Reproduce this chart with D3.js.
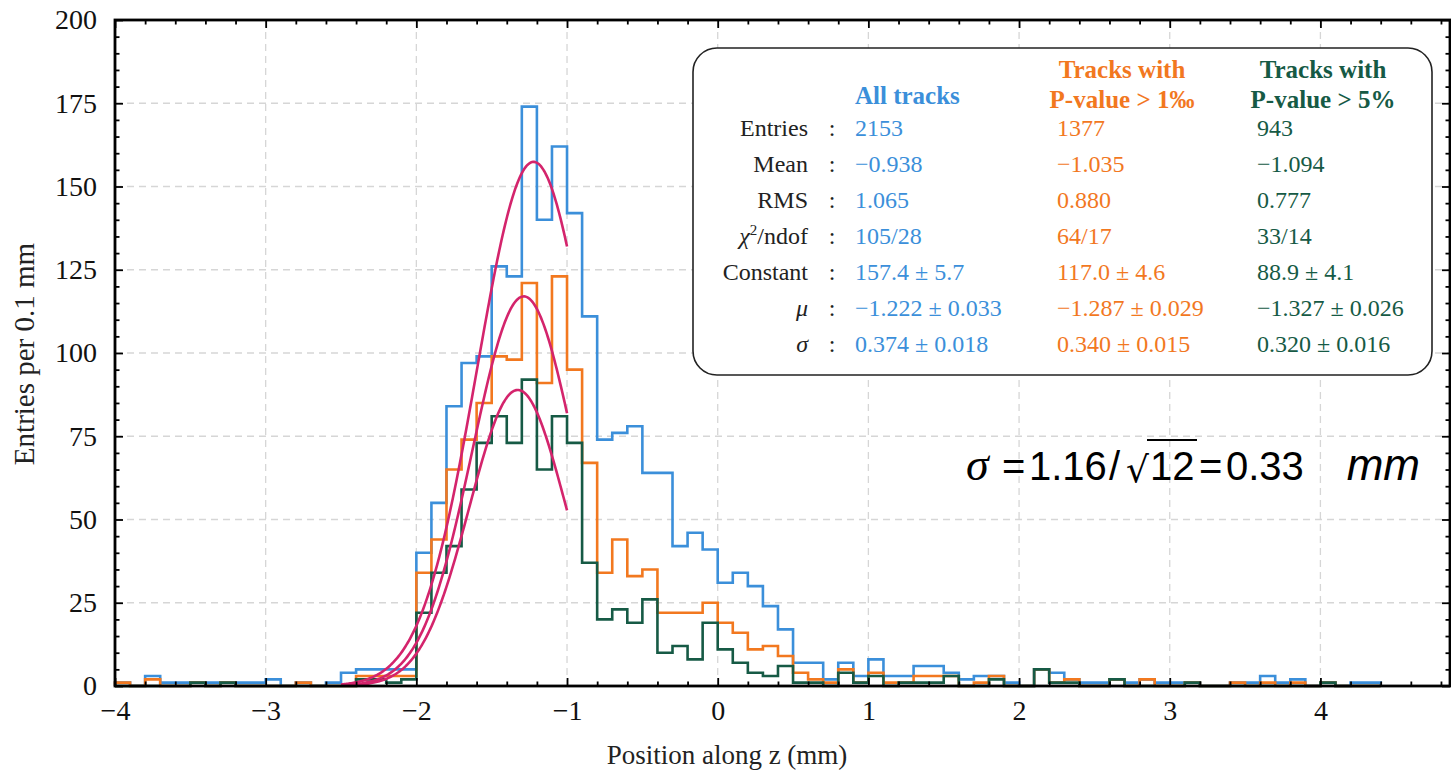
<!DOCTYPE html>
<html>
<head>
<meta charset="utf-8">
<script src="https://cdn.jsdelivr.net/npm/d3@7"></script>
<style>
  html, body { margin: 0; padding: 0; background: #fff; }
  svg { display: block; }
</style>
</head>
<body>
<svg id="chart" width="1451" height="773"></svg>
<script>
// ---------------- data ----------------
const binStart = -4.0;
const binWidth = 0.1;
// bins from -4.0 to 4.4 (0.1 mm each)
const allTracks = [1,0,3,1,1,1,1,1,1,1, 2,0,1,0,1,4,5,5,5,5,
  40,55,84,97,99,126,123,174,140,162, 142,111,74,76,78,64,64,42,46,41,
  31,34,30,24,17,7,7,2,7,3, 8,3,3,6,6,4,2,3,3,1,
  0,5,4,2,1,1,2,1,2,1, 1,1,0,0,1,1,3,1,2,0, 1,0,1,1];
const pValue1 = [1,0,2,0,0,1,0,1,0,0, 0,0,1,0,0,0,3,3,3,3,
  34,44,65,74,85,99,98,121,91,123, 95,67,34,44,33,35,22,22,22,25,
  19,16,11,12,9,4,2,1,5,1, 4,1,1,3,3,3,0,1,3,0,
  0,5,1,2,0,0,2,0,2,0, 0,1,0,0,1,0,1,0,1,0, 1,0,0,0];
const pValue5 = [0,0,0,0,0,1,0,1,0,0, 0,0,0,0,0,0,2,2,1,2,
  22,34,42,59,73,81,73,92,65,81, 73,37,20,23,19,26,10,12,8,19,
  11,7,4,3,6,1,1,0,4,1, 3,0,1,1,1,3,0,0,2,0,
  0,5,1,1,0,0,2,0,0,0, 0,1,0,0,0,0,0,0,0,0, 1,0,0,0];
const seriesNames = ["All tracks", "P-value > 1‰", "P-value > 5%"];
const seriesColors = ["#3b8fda", "#f2781f", "#165a45"];
// Gaussian fit parameters (from the stats box)
const fitConstant = [157.4, 117.0, 88.9];
const fitMu = [-1.222, -1.287, -1.327];
const fitSigma = [0.374, 0.340, 0.320];
const fitRange = [-2.5, -1.0];
const fitColor = "#d4246c";
// ticks
const xTicks = [-4, -3, -2, -1, 0, 1, 2, 3, 4];
const yTicks = [0, 25, 50, 75, 100, 125, 150, 175, 200];
// stats box
const statLabels = ["Entries", "Mean", "RMS", "χ²/ndof", "Constant", "μ", "σ"];
const statsAll = ["2153", "−0.938", "1.065", "105/28", "157.4 ± 5.7", "−1.222 ± 0.033", "0.374 ± 0.018"];
const statsP1 = ["1377", "−1.035", "0.880", "64/17", "117.0 ± 4.6", "−1.287 ± 0.029", "0.340 ± 0.015"];
const statsP5 = ["943", "−1.094", "0.777", "33/14", "88.9 ± 4.1", "−1.327 ± 0.026", "0.320 ± 0.016"];

// ---------------- layout ----------------
const svg = d3.select("#chart");
const L = 115, R = 1450, T = 20, B = 686;
const x = d3.scaleLinear().domain([-4, 4.86]).range([L, R]);
const y = d3.scaleLinear().domain([0, 200]).range([B, T]);
const serif = "'Liberation Serif', 'Times New Roman', serif";
const fmt = d => (d < 0 ? "−" + Math.abs(d) : String(d));

// grid
const grid = svg.append("g");
grid.selectAll(".gx").data(xTicks).join("line")
  .attr("x1", d => x(d)).attr("x2", d => x(d)).attr("y1", T).attr("y2", B)
  .attr("stroke", "#d6d6d6").attr("stroke-width", 1.3).attr("stroke-dasharray", "7,5");
grid.selectAll(".gy").data(yTicks).join("line")
  .attr("x1", L).attr("x2", R).attr("y1", d => y(d)).attr("y2", d => y(d))
  .attr("stroke", "#d6d6d6").attr("stroke-width", 1.3).attr("stroke-dasharray", "7,5");

// histograms
function stepPoints(vals) {
  const pts = [[binStart, 0]];
  vals.forEach((v, i) => {
    const x0 = binStart + i * binWidth;
    pts.push([x0, v]);
    pts.push([x0 + binWidth, v]);
  });
  pts.push([binStart + vals.length * binWidth, 0]);
  return pts;
}
const line = d3.line().x(d => x(d[0])).y(d => y(d[1]));
const histData = [allTracks, pValue1, pValue5];
svg.append("g").selectAll("path").data(histData).join("path")
  .attr("d", d => line(stepPoints(d)))
  .attr("fill", "none")
  .attr("stroke", (d, i) => seriesColors[i])
  .attr("stroke-width", 2.6)
  .attr("stroke-linejoin", "miter");

// fits
const fitXs = d3.range(0, 201).map(k => fitRange[0] + (fitRange[1] - fitRange[0]) * k / 200);
const fitLine = d3.line().x(d => x(d[0])).y(d => y(d[1])).curve(d3.curveLinear);
svg.append("g").selectAll("path").data(fitConstant).join("path")
  .attr("d", (c, i) => fitLine(fitXs.map(v => [v, c * Math.exp(-((v - fitMu[i]) ** 2) / (2 * fitSigma[i] ** 2))])))
  .attr("fill", "none").attr("stroke", fitColor).attr("stroke-width", 2.6);

// axes (ticks inward)
const xMinor = d3.range(-40, 49, 2).map(v => v / 10).filter(v => Math.abs(v - Math.round(v)) > 1e-6);
const yMinor = d3.range(0, 201, 5).filter(v => v % 25 !== 0);
function styleAxis(g) {
  g.select(".domain").remove();
  g.selectAll(".tick line").attr("stroke", "#000").attr("stroke-width", 1.8);
  g.selectAll("text").attr("font-family", serif).attr("font-size", 28).attr("fill", "#111");
}
svg.append("g").attr("transform", `translate(0,${B})`)
  .call(d3.axisBottom(x).tickValues(xTicks).tickFormat(fmt).tickSize(-8).tickPadding(14))
  .call(styleAxis);
svg.append("g").attr("transform", `translate(0,${B})`)
  .call(d3.axisBottom(x).tickValues(xMinor).tickFormat("").tickSize(-4.5)).call(styleAxis);
svg.append("g").attr("transform", `translate(0,${T})`)
  .call(d3.axisTop(x).tickValues(xTicks).tickFormat("").tickSize(-8)).call(styleAxis);
svg.append("g").attr("transform", `translate(0,${T})`)
  .call(d3.axisTop(x).tickValues(xMinor).tickFormat("").tickSize(-4.5)).call(styleAxis);
svg.append("g").attr("transform", `translate(${L},0)`)
  .call(d3.axisLeft(y).tickValues(yTicks).tickFormat(fmt).tickSize(-8).tickPadding(18))
  .call(styleAxis);
svg.append("g").attr("transform", `translate(${L},0)`)
  .call(d3.axisLeft(y).tickValues(yMinor).tickFormat("").tickSize(-4.5)).call(styleAxis);
svg.append("g").attr("transform", `translate(${R},0)`)
  .call(d3.axisRight(y).tickValues(yTicks).tickFormat("").tickSize(-8)).call(styleAxis);
svg.append("g").attr("transform", `translate(${R},0)`)
  .call(d3.axisRight(y).tickValues(yMinor).tickFormat("").tickSize(-4.5)).call(styleAxis);

// frame
svg.append("rect").attr("x", L).attr("y", T).attr("width", R - L).attr("height", B - T)
  .attr("fill", "none").attr("stroke", "#000").attr("stroke-width", 2.8);

// axis labels
svg.append("text").attr("x", 727).attr("y", 764).attr("text-anchor", "middle")
  .attr("font-family", serif).attr("font-size", 27).attr("fill", "#222")
  .text("Position along z (mm)");
svg.append("text").attr("transform", "translate(34,354) rotate(-90)").attr("text-anchor", "middle")
  .attr("font-family", serif).attr("font-size", 29).attr("fill", "#222")
  .text("Entries per 0.1 mm");

// stats box
const box = svg.append("g");
box.append("rect").attr("x", 693).attr("y", 48).attr("width", 739).attr("height", 327)
  .attr("rx", 24).attr("fill", "#fff").attr("stroke", "#222").attr("stroke-width", 1.6);
const fs = 24, hfs = 25;
box.append("text").attr("x", 855).attr("y", 104)
  .attr("font-family", serif).attr("font-size", hfs).attr("font-weight", "bold")
  .attr("fill", seriesColors[0]).text("All tracks");
const headerX = [0, 1122, 1323];
[1, 2].forEach(i => {
  box.append("text").attr("x", headerX[i]).attr("y", 78).attr("text-anchor", "middle")
    .attr("font-family", serif).attr("font-size", hfs).attr("font-weight", "bold")
    .attr("fill", seriesColors[i]).text("Tracks with");
  box.append("text").attr("x", headerX[i]).attr("y", 108).attr("text-anchor", "middle")
    .attr("font-family", serif).attr("font-size", hfs).attr("font-weight", "bold")
    .attr("fill", seriesColors[i]).text(seriesNames[i]);
});
const rowY = d3.scaleLinear().domain([0, 6]).range([136, 352]);
statLabels.forEach((lab, r) => {
  const t = box.append("text").attr("x", 808).attr("y", rowY(r)).attr("text-anchor", "end")
    .attr("font-family", serif).attr("font-size", fs).attr("fill", "#222");
  if (lab === "μ" || lab === "σ") t.attr("font-style", "italic");
  if (lab === "χ²/ndof") {
    t.append("tspan").attr("font-style", "italic").text("χ");
    t.append("tspan").attr("font-size", 15).attr("dy", -9).text("2");
    t.append("tspan").attr("dy", 9).text("/ndof");
  } else t.text(lab);
  box.append("text").attr("x", 832).attr("y", rowY(r)).attr("text-anchor", "middle")
    .attr("font-family", serif).attr("font-size", fs).attr("fill", "#222").text(":");
});
[[statsAll, 855], [statsP1, 1057], [statsP5, 1257]].forEach(([vals, xx], i) => {
  vals.forEach((v, r) => {
    box.append("text").attr("x", xx).attr("y", rowY(r))
      .attr("font-family", serif).attr("font-size", fs).attr("fill", seriesColors[i]).text(v);
  });
});

// annotation  σ = 1.16/√12 = 0.33 mm
const ann = svg.append("g").attr("font-family", "'Liberation Sans', Arial, sans-serif")
  .attr("font-size", 40).attr("fill", "#000");
const baseY = 480;
ann.append("text").attr("x", 966).attr("y", baseY).attr("font-style", "italic")
  .attr("font-family", "'Liberation Serif', serif").attr("font-size", 46).text("σ");
ann.append("text").attr("x", 1002).attr("y", baseY).text("=");
ann.append("text").attr("x", 1029).attr("y", baseY).text("1.16");
ann.append("text").attr("x", 1109).attr("y", baseY).text("/");
ann.append("text").attr("x", 1126).attr("y", baseY + 2).attr("font-family", "'DejaVu Sans', sans-serif")
  .attr("font-size", 36).text("√");
ann.append("text").attr("x", 1150).attr("y", baseY).text("12");
ann.append("line").attr("x1", 1147).attr("x2", 1197).attr("y1", 440).attr("y2", 440)
  .attr("stroke", "#000").attr("stroke-width", 2.2);
ann.append("text").attr("x", 1199).attr("y", baseY).text("=");
ann.append("text").attr("x", 1226).attr("y", baseY).text("0.33");
ann.append("text").attr("x", 1420).attr("y", baseY).attr("text-anchor", "end")
  .attr("font-style", "italic").attr("font-size", 44).text("mm");
</script>
</body>
</html>
